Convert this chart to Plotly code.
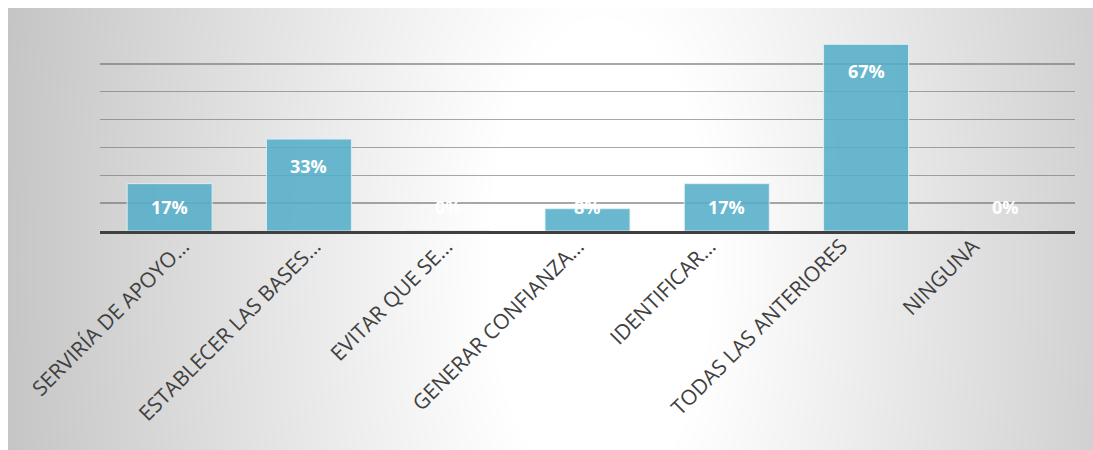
import numpy as np
import plotly.graph_objects as go

categories = ["SERVIRÍA DE APOYO…", "ESTABLECER LAS BASES…", "EVITAR QUE SE…",
              "GENERAR CONFIANZA…", "IDENTIFICAR…", "TODAS LAS ANTERIORES", "NINGUNA"]
values = [17, 33, 0, 8, 17, 67, 0]
value_labels = ["17%", "33%", "0%", "8%", "17%", "67%", "0%"]
grid_ticks = [0, 10, 20, 30, 40, 50, 60, 70]

W, H = 1093, 450
ML, MR, MT, MB = 8, 0, 8, 0
PW, PH = W - ML - MR, H - MT - MB

# background gradient (decorative)
nx, ny = 160, 60
gx = np.linspace(0, 1, nx)
gy = np.linspace(0, 1, ny)
X, Y = np.meshgrid(gx, gy)
px = X * PW + ML
py = (1 - Y) * PH + MT
cx, cy, rx, ry = 600, 260, 610, 1300
d = np.sqrt(((px - cx) / rx) ** 2 + ((py - cy) / ry) ** 2)
z = np.clip((d - 0.18) / 0.82, 0, 1)

fig = go.Figure()
fig.add_trace(go.Heatmap(x=gx, y=gy, z=z, zmin=0, zmax=1, zsmooth="best",
                         colorscale=[[0, "#ffffff"], [1, "#c4c4c4"]],
                         showscale=False, hoverinfo="skip",
                         xaxis="x", yaxis="y"))

fig.add_trace(go.Bar(x=categories, y=values, xaxis="x2", yaxis="y2",
                     marker=dict(color="rgba(84,174,200,0.88)",
                                 line=dict(color="rgba(225,240,245,0.9)", width=1)),
                     hoverinfo="skip"))

# invisible carrier for the category label axis
fig.add_trace(go.Scatter(x=categories, y=values, xaxis="x3", yaxis="y3",
                         mode="markers", marker=dict(opacity=0),
                         hoverinfo="skip"))

def fx(p):
    return (p - ML) / PW

def fy(p):
    return (H - MB - p) / PH

x0, x1 = fx(100), fx(1075)
y0, y1 = fy(231), fy(36)
lx0, lx1 = fx(135), fx(1021)
px_per_unit = (231 - 36) / 70.0

annotations = []
for c, v, t in zip(categories, values, value_labels):
    center = v * px_per_unit - 27
    if center < 24:
        yy, ys = 0, 24
    else:
        yy, ys = v, -27
    annotations.append(dict(x=c, y=yy, xref="x2", yref="y2", yshift=ys,
                            text="<b>" + t + "</b>", showarrow=False,
                            font=dict(family="Open Sans", size=18, color="white"),
                            yanchor="middle", xanchor="center"))

fig.update_layout(
    width=W, height=H,
    margin=dict(l=ML, r=MR, t=MT, b=MB, autoexpand=False),
    paper_bgcolor="white",
    plot_bgcolor="rgba(0,0,0,0)",
    showlegend=False,
    bargap=0.39,
    annotations=annotations,
    xaxis=dict(domain=[0, 1], range=[0, 1], visible=False, fixedrange=True),
    yaxis=dict(domain=[0, 1], range=[0, 1], visible=False, fixedrange=True),
    xaxis2=dict(domain=[x0, x1], anchor="y2", showline=True, linecolor="#404040",
                linewidth=3, showgrid=False, showticklabels=False, ticks="",
                automargin=False),
    yaxis2=dict(domain=[y0, y1], anchor="x2", range=[0, 70], tickvals=grid_ticks,
                showticklabels=False, showgrid=True, gridcolor="rgba(110,110,110,0.6)",
                gridwidth=1.5, zeroline=False, showline=False, automargin=False),
    xaxis3=dict(domain=[lx0, lx1], anchor="y3", showline=False, showgrid=False,
                zeroline=False, tickangle=-45, ticks="", automargin=False,
                ticklabelstandoff=-2,
                tickfont=dict(family="Open Sans", size=21, color="#404040")),
    yaxis3=dict(domain=[y0, y1], anchor="x3", range=[0, 70], visible=False,
                automargin=False),
)

fig.write_html("out.html",
               config={"displayModeBar": False, "staticPlot": True},
               post_script="document.body.style.margin='0';"
                           "document.body.style.overflow='hidden';"
                           "document.documentElement.style.overflow='hidden';")
